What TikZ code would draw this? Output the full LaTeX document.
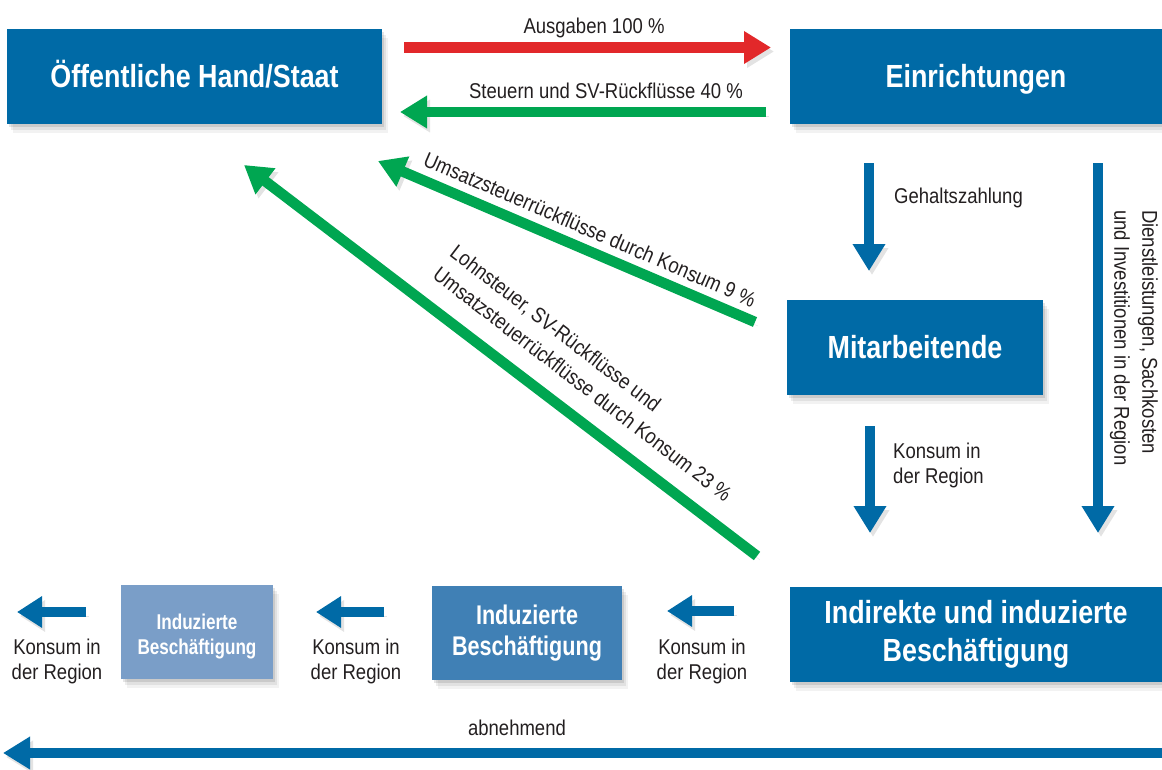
\documentclass[tikz,border=0pt]{standalone}
\usepackage{fontspec}
\setmainfont{Liberation Sans}[FakeStretch=0.865]
\newfontfamily\headfont{Liberation Sans}[FakeStretch=0.80]
\newfontfamily\bighead{Liberation Sans}[FakeStretch=0.84]
\usetikzlibrary{arrows.meta,shadows}
\definecolor{dblue}{RGB}{0,106,166}
\definecolor{mblue}{RGB}{64,128,181}
\definecolor{lblue}{RGB}{122,158,200}
\definecolor{agreen}{RGB}{0,166,81}
\definecolor{ared}{RGB}{226,40,42}
\definecolor{labelc}{RGB}{35,31,32}
\begin{document}
\begin{tikzpicture}[x=1pt,y=-1pt,
  boxshadow/.style={
    drop shadow={shadow xshift=2pt,shadow yshift=-3pt,opacity=0.10,fill=black},
    drop shadow={shadow xshift=4pt,shadow yshift=-6pt,opacity=0.07,fill=black},
    drop shadow={shadow xshift=6pt,shadow yshift=-9pt,opacity=0.05,fill=black}},
  box/.style={boxshadow, fill=dblue, text=white, inner sep=0pt, align=center,
    font=\bighead\bfseries\fontsize{32}{38}\selectfont},
  onebox/.style={box, text height=22pt, text depth=0pt},
  midbox/.style={box, fill=mblue, font=\headfont\bfseries\fontsize{27}{31}\selectfont},
  lightbox/.style={box, fill=lblue, font=\headfont\bfseries\fontsize{21.4}{25}\selectfont},
  lbl/.style={text=labelc, inner sep=0pt, font=\fontsize{21.4}{25}\selectfont},
  arrshadow/.style={preaction={draw=black!11, transform canvas={shift={(3pt,-4pt)}}}},
  bigarrow/.style={arrshadow, line width=10.5pt, -{Triangle[length=27pt,width=31pt]}},
  smallarrow/.style={arrshadow, line width=10pt, color=dblue, -{Triangle[length=25pt,width=30pt]}}
]
\useasboundingbox (0,0) rectangle (1162,769);

% boxes
\node[onebox, minimum width=375pt, minimum height=95pt] (staat) at (194.5,76.5) {Öffentliche Hand/Staat};
\node[onebox, minimum width=372pt, minimum height=95pt] (einr) at (976,76.5) {Einrichtungen};
\node[onebox, minimum width=256pt, minimum height=95pt] (mitar) at (915,347.5) {Mitarbeitende};
\node[box, minimum width=372pt, minimum height=95pt] (indir) at (976,634.5) {Indirekte und induzierte\\Beschäftigung};
\node[midbox, minimum width=190pt, minimum height=94pt] (ind1) at (527,633) {Induzierte\\Beschäftigung};
\node[lightbox, minimum width=152pt, minimum height=94pt] (ind2) at (197,632) {\rule{0pt}{25pt}Induzierte\\Beschäftigung};

% arrow end points
\coordinate (ra) at (404,47.5);
\coordinate (rb) at (771,47.5);
\coordinate (ga) at (766,112);
\coordinate (gb) at (400,112);
\coordinate (d1a) at (755,322);
\coordinate (d1b) at (378,161);
\coordinate (d2a) at (757,556);
\coordinate (d2b) at (244,165);
\coordinate (v1a) at (869,163);
\coordinate (v1b) at (869,271);
\coordinate (v2a) at (870,426);
\coordinate (v2b) at (870,533);
\coordinate (v3a) at (1098,163);
\coordinate (v3b) at (1098,533);
\coordinate (h1a) at (734,611);
\coordinate (h1b) at (667,611);
\coordinate (h2a) at (384,612);
\coordinate (h2b) at (316,612);
\coordinate (h3a) at (86,612);
\coordinate (h3b) at (17,612);
\coordinate (aba) at (1175,753);
\coordinate (abb) at (3,753);

% arrows
\draw[bigarrow, color=ared] (ra) -- (rb);
\draw[bigarrow, color=agreen] (ga) -- (gb);
\draw[bigarrow, color=agreen] (d1a) -- (d1b);
\draw[bigarrow, color=agreen] (d2a) -- (d2b);
\draw[bigarrow, color=dblue] (v1a) -- (v1b);
\draw[bigarrow, color=dblue] (v2a) -- (v2b);
\draw[bigarrow, color=dblue] (v3a) -- (v3b);
\draw[smallarrow] (h1a) -- (h1b);
\draw[smallarrow] (h2a) -- (h2b);
\draw[smallarrow] (h3a) -- (h3b);
\draw[bigarrow, line width=10pt, color=dblue] (aba) -- (abb);

% labels
\node[lbl, anchor=base] (lausg) at (594,33) {Ausgaben 100 \%};
\node[lbl, anchor=base] (lsteu) at (606,98) {Steuern und SV-Rückflüsse 40 \%};
\node[lbl, anchor=base west] (lgeh) at (894,203) {Gehaltszahlung};
\node[lbl, anchor=west, align=left] (lkons) at (893,465) {Konsum in\\der Region};
\node[lbl, anchor=north west, align=left, rotate=-90, font=\fontsize{21.4}{28}\selectfont] (ldienst) at (1158,210) {Dienstleistungen, Sachkosten\\und Investitionen in der Region};
\node[lbl, anchor=base west, rotate=-23.4] (lust) at (422,165) {Umsatzsteuerrückflüsse durch Konsum 9 \%};
\node[lbl, anchor=north west, align=left, rotate=-37.5, font=\fontsize{21.4}{28}\selectfont] (llohn) at (458,243) {Lohnsteuer, SV-Rückflüsse und\\Umsatzsteuerrückflüsse durch Konsum 23 \%};
\node[lbl, align=center] (lk1) at (702,661) {Konsum in\\der Region};
\node[lbl, align=center] (lk2) at (356,661) {Konsum in\\der Region};
\node[lbl, align=center] (lk3) at (57,661) {Konsum in\\der Region};
\node[lbl, anchor=base] (labn) at (517,735) {abnehmend};
\end{tikzpicture}
\end{document}
